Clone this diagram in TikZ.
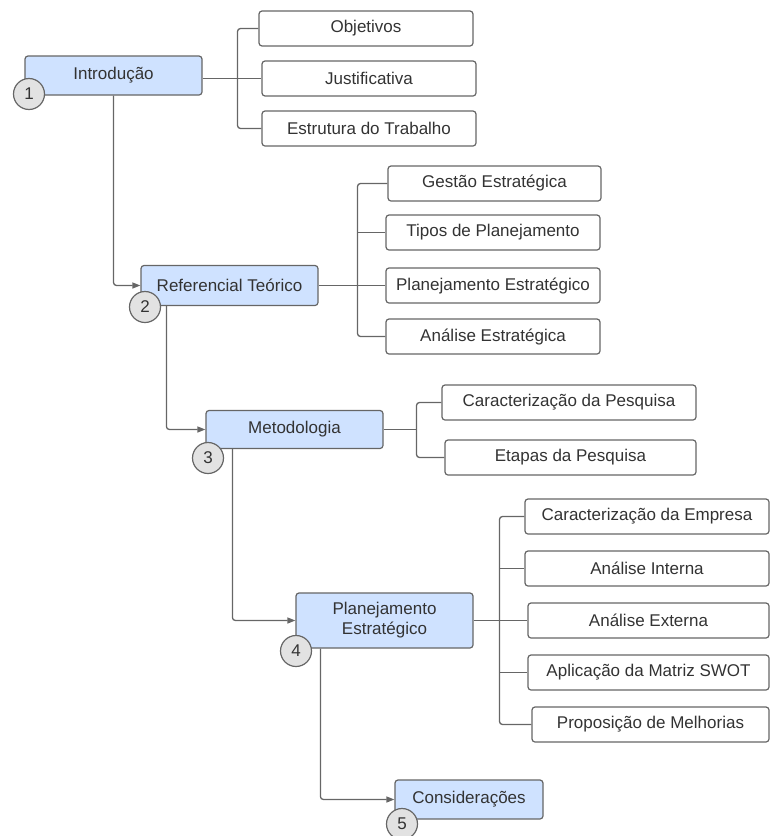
\documentclass[tikz,border=0pt]{standalone}
\usepackage{fontspec}
\setmainfont{Liberation Sans}
\usetikzlibrary{arrows.meta}
\definecolor{linha}{HTML}{666666}
\definecolor{azul}{HTML}{CFE2FF}
\definecolor{cinza}{HTML}{E2E2E2}
\definecolor{texto}{HTML}{333333}
\tikzset{
    caixa/.style={draw=linha, rounded corners=3, line width=1.2, text=texto,
        align=center, inner sep=2, font=\fontsize{17}{20}\selectfont},
    capitulo/.style={caixa, fill=azul, minimum width=177, minimum height=39},
    secao/.style={caixa, fill=white, minimum height=35},
    numero/.style={circle, draw=linha, fill=cinza, line width=1.2, minimum size=31,
        inner sep=0, text=texto, font=\fontsize{17}{20}\selectfont},
    liga/.style={draw=linha, line width=1.3, rounded corners=3},
    seta/.style={liga, -{Triangle[length=8,width=6]}}
}
\begin{document}
\begin{tikzpicture}[x=1pt, y=-1pt]
    \useasboundingbox (0,0) rectangle (772,836);
    % chapters
    \node[capitulo] (intro) at (113.5,75.5) {Introdução};
    \node[capitulo, minimum height=40] (ref) at (229.5,285.5) {Referencial Teórico};
    \node[capitulo, minimum height=38] (met) at (294.5,429.5) {Metodologia};
    \node[capitulo, minimum height=55] (plan) at (384.5,620.5) {Planejamento\\Estratégico};
    \node[capitulo, minimum width=148] (cons) at (469,799.5) {Considerações};
    % sections
    \node[secao, minimum width=214] (obj) at (366,28.5) {Objetivos};
    \node[secao, minimum width=214] (jus) at (369,78.5) {Justificativa};
    \node[secao, minimum width=214] (est) at (369,128.5) {Estrutura do Trabalho};
    \node[secao, minimum width=213] (gest) at (494.5,183.5) {Gestão Estratégica};
    \node[secao, minimum width=214] (tipos) at (493,232.5) {Tipos de Planejamento};
    \node[secao, minimum width=214] (pest) at (493,285.5) {Planejamento Estratégico};
    \node[secao, minimum width=214] (aest) at (493,336.5) {Análise Estratégica};
    \node[secao, minimum width=254] (cpesq) at (569,402.5) {Caracterização da Pesquisa};
    \node[secao, minimum width=251] (etapas) at (570.5,457.5) {Etapas da Pesquisa};
    \node[secao, minimum width=244] (cemp) at (647,516.5) {Caracterização da Empresa};
    \node[secao, minimum width=244] (aint) at (647,568.5) {Análise Interna};
    \node[secao, minimum width=241] (aext) at (648.5,620.5) {Análise Externa};
    \node[secao, minimum width=241] (swot) at (648.5,672.5) {Aplicação da Matriz SWOT};
    \node[secao, minimum width=237] (prop) at (650.5,724.5) {Proposição de Melhorias};
    % branch points
    \coordinate (b1) at (237.5,78.5);
    \coordinate (b2) at (357.5,285.5);
    \coordinate (b3) at (416.5,429.5);
    \coordinate (b4) at (499.5,620.5);
    % branches
    \draw[liga] (intro.east |- b1) -- (jus.west);
    \draw[liga] (obj.west) -| (b1) |- (est.west);
    \draw[liga] (ref.east) -- (pest.west);
    \draw[liga] (gest.west) -| (b2) |- (aest.west);
    \draw[liga] (b2 |- tipos.west) -- (tipos.west);
    \draw[liga] (met.east) -- (b3);
    \draw[liga] (cpesq.west) -| (b3) |- (etapas.west);
    \draw[liga] (plan.east) -- (aext.west);
    \draw[liga] (cemp.west) -| (b4) |- (prop.west);
    \foreach \s in {aint,swot} \draw[liga] (b4 |- \s.west) -- (\s.west);
    % main sequence
    \draw[seta] (intro.south) |- (ref.west);
    \draw[seta] ([xshift=26]ref.south west) |- (met.west);
    \draw[seta] ([xshift=27]met.south west) |- (plan.west);
    \draw[seta] ([xshift=25]plan.south west) |- (cons.west);
    % numbers
    \node[numero] (n1) at (29,94) {1};
    \node[numero] (n2) at (145,307) {2};
    \node[numero] (n3) at (208,458) {3};
    \node[numero] (n4) at (296,651) {4};
    \node[numero] (n5) at (402,824) {5};
\end{tikzpicture}
\end{document}
